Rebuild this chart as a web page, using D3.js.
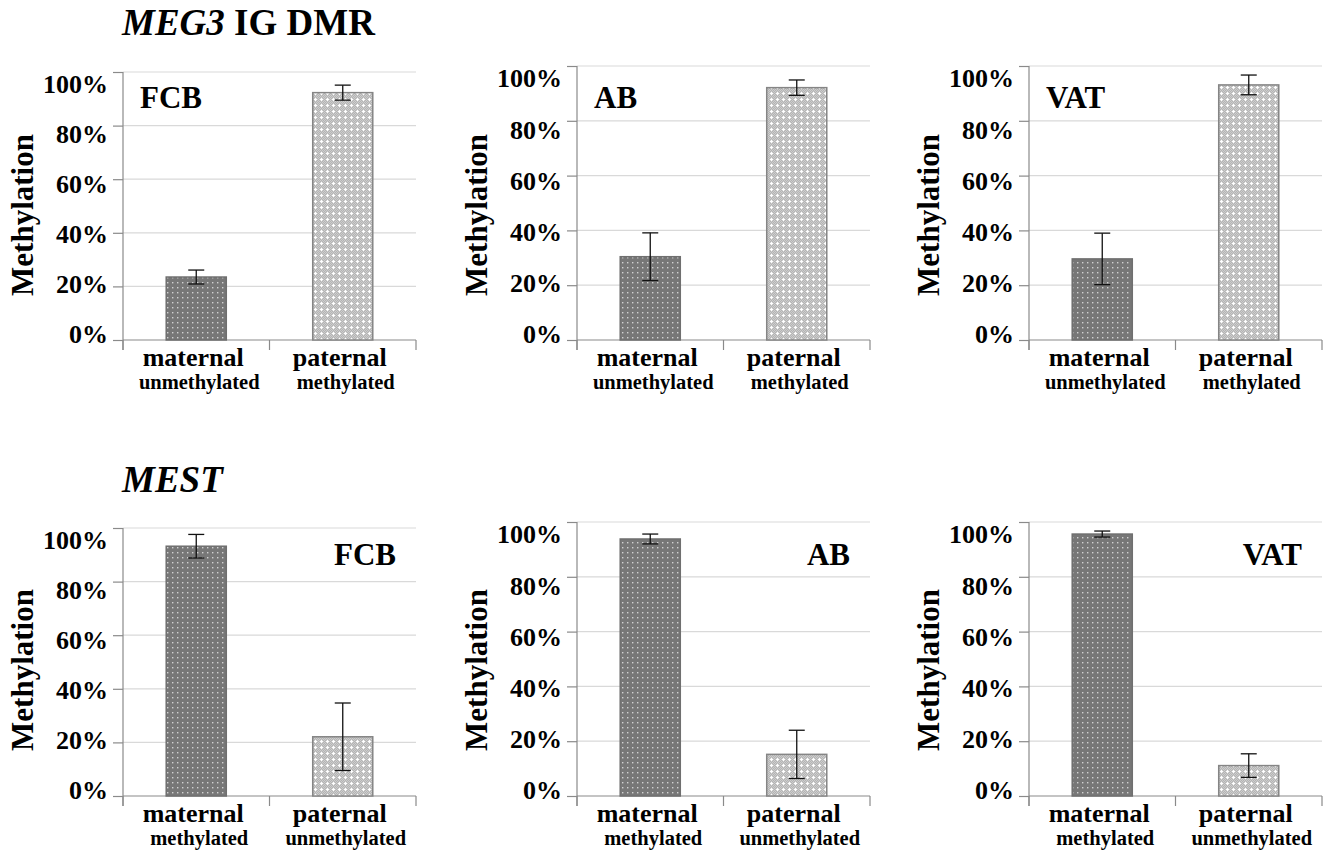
<!DOCTYPE html>
<html>
<head>
<meta charset="utf-8">
<script src="https://cdn.jsdelivr.net/npm/d3@7"></script>
<style>
  body { margin: 0; background: #fff; }
  svg text { font-family: "Liberation Serif", "Times New Roman", serif; font-weight: bold; fill: #000; }
</style>
</head>
<body>
<div class="viz"></div>
<script>
// data (percent methylation, mean and error)
const categories = ['maternal', 'paternal']
const tissues = ['FCB', 'AB', 'VAT']
const meg3Sub = ['unmethylated', 'methylated']
const mestSub = ['methylated', 'unmethylated']
const meg3Values = [[23.5, 92.3], [30.4, 92.1], [29.6, 93.1]]
const meg3Errors = [[2.6, 2.8], [8.7, 2.8], [9.4, 3.6]]
const mestValues = [[93.2, 22.1], [93.8, 15.2], [95.6, 11.1]]
const mestErrors = [[4.4, 12.6], [1.8, 8.8], [1.1, 4.3]]
const yTicks = [0, 20, 40, 60, 80, 100]

// panel geometry
const colLeft = [123, 577, 1029]
const colRight = [416, 870, 1322]
const rows = [
  { gene: 'MEG3', rest: ' IG DMR', titleY: 35, top: [72, 66, 66], base: [340, 340, 340], labelY: 108, labelRight: false, sub: meg3Sub, values: meg3Values, errors: meg3Errors, axisTitleY: 215 },
  { gene: 'MEST', rest: '', titleY: 492, top: [528, 522, 522], base: [796, 796, 796], labelY: 565, labelRight: true, sub: mestSub, values: mestValues, errors: mestErrors, axisTitleY: 670 }
]

const svg = d3.select('.viz')
  .append('svg')
    .attr('width', 1333)
    .attr('height', 851)

// bar fills
const defs = svg.append('defs')
const dark = defs.append('pattern')
  .attr('id', 'darkDots')
  .attr('patternUnits', 'userSpaceOnUse')
  .attr('width', 5).attr('height', 5)
dark.append('rect').attr('width', 5).attr('height', 5).attr('fill', '#777')
dark.append('rect').attr('x', 2).attr('y', 2).attr('width', 1.4).attr('height', 1.4).attr('fill', '#d2d2d2')

const light = defs.append('pattern')
  .attr('id', 'lightCross')
  .attr('patternUnits', 'userSpaceOnUse')
  .attr('width', 6).attr('height', 6)
light.append('rect').attr('width', 6).attr('height', 6).attr('fill', '#b4b4b4')
d3.range(36).filter(i => (i % 6 + Math.floor(i / 6)) % 2 === 0).forEach(i => {
  light.append('rect').attr('x', i % 6).attr('y', Math.floor(i / 6)).attr('width', 1).attr('height', 1).attr('fill', '#cdcdcd')
})
light.append('rect').attr('x', 2).attr('y', 3).attr('width', 3).attr('height', 1).attr('fill', '#fff')
light.append('rect').attr('x', 3).attr('y', 2).attr('width', 1).attr('height', 3).attr('fill', '#fff')

const fills = ['url(#darkDots)', 'url(#lightCross)']
const strokes = ['#6f6f6f', '#858585']

rows.forEach(row => {
  // gene title
  const title = svg.append('text')
    .attr('x', colLeft[0] - 1)
    .attr('y', row.titleY)
    .style('font-size', '37px')
  title.append('tspan').style('font-style', 'italic').text(row.gene)
  if (row.rest) title.append('tspan').text(row.rest)

  tissues.forEach((tissue, c) => {
    const x0 = colLeft[c], x1 = colRight[c]
    const y = d3.scaleLinear().domain([0, 100]).range([row.base[c], row.top[c]])
    // tick labels sit a little inside the gridlines in the original
    const labelY = d3.scaleLinear().domain([0, 100]).range([row.base[c] - 6, row.top[c] + 12])
    const x = d3.scaleBand().domain(categories).range([x0, x1])
    const barW = x.bandwidth() * 0.41
    const g = svg.append('g')

    // gridlines
    g.selectAll('.grid')
      .data(yTicks.filter(d => d > 0)).enter().append('line')
      .attr('x1', x0).attr('x2', x1)
      .attr('y1', d => y(d)).attr('y2', d => y(d))
      .attr('stroke', '#d9d9d9')
      .attr('stroke-width', 1.2)

    // y axis
    const yAxis = g.append('g')
      .attr('transform', `translate(${x0},0)`)
      .call(d3.axisLeft(y).tickValues(yTicks).tickSize(10).tickPadding(5).tickFormat(d => d + '%'))
    yAxis.select('.domain').remove()
    yAxis.selectAll('.tick line').attr('stroke', '#8a8a8a').attr('stroke-width', 1.2)
    yAxis.selectAll('.tick text')
      .attr('y', d => labelY(d) - y(d))
      .attr('dy', '0.34em')
      .style('font-size', '26px')
      .attr('font-family', null)

    // axis lines
    g.append('line')
      .attr('x1', x0).attr('x2', x0)
      .attr('y1', y(100)).attr('y2', y(0) + 10)
      .attr('stroke', '#8a8a8a').attr('stroke-width', 1.2)
    g.append('line')
      .attr('x1', x0).attr('x2', x1)
      .attr('y1', y(0)).attr('y2', y(0))
      .attr('stroke', '#8a8a8a').attr('stroke-width', 1.2)
    g.selectAll('.xtick')
      .data([x0, x0 + x.step(), x1]).enter().append('line')
      .attr('x1', d => d).attr('x2', d => d)
      .attr('y1', y(0)).attr('y2', y(0) + 10)
      .attr('stroke', '#8a8a8a').attr('stroke-width', 1.2)

    const bars = categories.map((cat, i) => ({
      cat, i,
      value: row.values[c][i],
      err: row.errors[c][i],
      cx: x(cat) + x.bandwidth() / 2
    }))

    // bars
    g.selectAll('.bar')
      .data(bars).enter().append('rect')
      .attr('x', d => d.cx - barW / 2)
      .attr('width', barW)
      .attr('y', d => y(d.value))
      .attr('height', d => y(0) - y(d.value))
      .attr('fill', d => fills[d.i])
      .attr('stroke', d => strokes[d.i])
      .attr('stroke-width', 1.5)

    // error bars
    const capW = 16
    const err = g.selectAll('.err')
      .data(bars).enter().append('g')
      .attr('stroke', '#111')
      .attr('stroke-width', 1.3)
    err.append('line')
      .attr('x1', d => d.cx).attr('x2', d => d.cx)
      .attr('y1', d => y(d.value + d.err)).attr('y2', d => y(d.value - d.err))
    err.append('line')
      .attr('x1', d => d.cx - capW / 2).attr('x2', d => d.cx + capW / 2)
      .attr('y1', d => y(d.value + d.err)).attr('y2', d => y(d.value + d.err))
    err.append('line')
      .attr('x1', d => d.cx - capW / 2).attr('x2', d => d.cx + capW / 2)
      .attr('y1', d => y(d.value - d.err)).attr('y2', d => y(d.value - d.err))

    // category labels
    g.selectAll('.cat')
      .data(bars).enter().append('text')
      .attr('x', d => d.cx - 3)
      .attr('y', y(0) + 26)
      .attr('text-anchor', 'middle')
      .style('font-size', '26px')
      .text(d => d.cat)
    g.selectAll('.sub')
      .data(bars).enter().append('text')
      .attr('x', d => d.cx + 3)
      .attr('y', y(0) + 49)
      .attr('text-anchor', 'middle')
      .style('font-size', '20.5px')
      .text(d => row.sub[d.i])

    // y axis title
    g.append('text')
      .attr('transform', `translate(${x0 - 90},${row.axisTitleY}) rotate(-90)`)
      .attr('text-anchor', 'middle')
      .style('font-size', '31px')
      .text('Methylation')

    // tissue label
    g.append('text')
      .attr('x', row.labelRight ? x1 - 20 : x0 + 17)
      .attr('y', row.labelY)
      .attr('text-anchor', row.labelRight ? 'end' : 'start')
      .style('font-size', '31px')
      .text(tissue)
  })
})
</script>
</body>
</html>
